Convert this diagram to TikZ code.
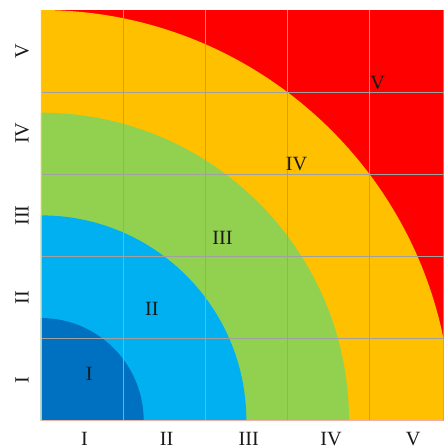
\documentclass[tikz,border=0pt]{standalone}
\usepackage{fontspec}
\setmainfont{Liberation Serif}
\definecolor{cI}{HTML}{0070C0}
\definecolor{cII}{HTML}{00B0F0}
\definecolor{cIII}{HTML}{92D050}
\definecolor{cIV}{HTML}{FFC000}
\definecolor{cV}{HTML}{FF0000}
\definecolor{gridc}{HTML}{A0A0A0}
\definecolor{edgec}{HTML}{F0B0A8}
\begin{document}
\begin{tikzpicture}[x=2cm,y=2cm,
  lab/.style={font=\fontsize{14}{16}\selectfont, text=black!90, inner sep=0pt}]
\useasboundingbox (-0.499,-0.332) rectangle (4.903,5.122);
\begin{scope}
\clip (-0.499,-0.332) rectangle (4.903,5.122);
\fill[cV] (0,0) rectangle (5,5);
\fill[cIV] (0,0) -- (5,0) arc[start angle=0,end angle=90,radius=5] -- cycle;
\fill[cIII] (0,0) -- (3.75,0) arc[start angle=0,end angle=90,radius=3.75] -- cycle;
\fill[cII] (0,0) -- (2.5,0) arc[start angle=0,end angle=90,radius=2.5] -- cycle;
\fill[cI] (0,0) -- (1.25,0) arc[start angle=0,end angle=90,radius=1.25] -- cycle;
\foreach \i in {1,2,3,4} {
  \draw[gridc, line width=0.6pt] (\i,0) -- (\i,5);
  \draw[gridc, line width=0.6pt] (0,\i) -- (5,\i);
}
\draw[edgec, line width=0.6pt] (0,5) -- (0,0) -- (5,0);
\end{scope}
\node[lab] (rI) at (0.588,0.57) {I};
\node[lab] (rII) at (1.35,1.36) {II};
\node[lab] (rIII) at (2.21,2.23) {III};
\node[lab] (rIV) at (3.11,3.13) {IV};
\node[lab] (rV) at (4.10,4.11) {V};
\foreach \t [count=\k] in {I,II,III,IV,V} {
  \node[lab] (b\k) at (\k-0.47,-0.22) {\t};
  \node[lab, rotate=90] (l\k) at (-0.23,\k-0.5) {\t};
}
\end{tikzpicture}
\end{document}
